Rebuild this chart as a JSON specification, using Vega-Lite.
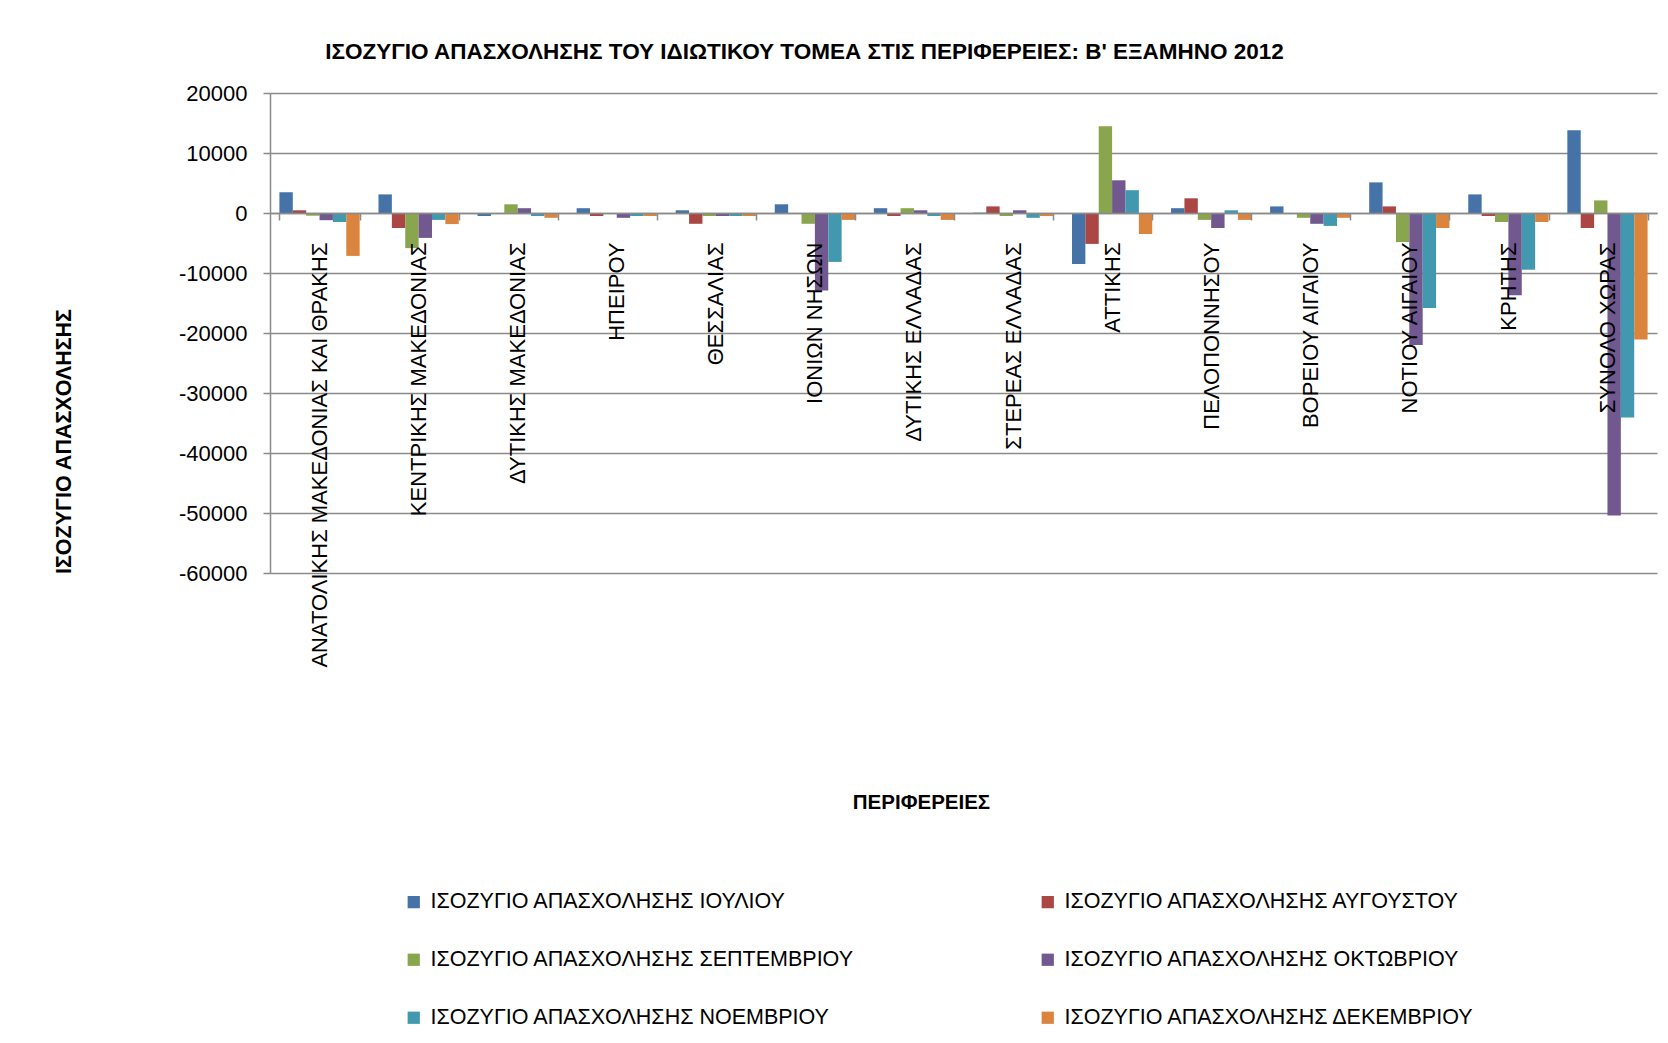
{
  "$schema": "https://vega.github.io/schema/vega-lite/v6.json",
  "autosize": "none",
  "width": 1387,
  "height": 480,
  "padding": {"left": 270, "top": 93, "right": 11, "bottom": 470},
  "background": "white",
  "title": {
    "text": "ΙΣΟΖΥΓΙΟ ΑΠΑΣΧΟΛΗΣΗΣ  ΤΟΥ ΙΔΙΩΤΙΚΟΥ ΤΟΜΕΑ ΣΤΙΣ ΠΕΡΙΦΕΡΕΙΕΣ:  Β' ΕΞΑΜΗΝΟ 2012",
    "font": "Liberation Sans",
    "fontSize": 22.5,
    "fontWeight": "bold",
    "color": "black",
    "anchor": "middle",
    "frame": "group",
    "dx": -159,
    "offset": 19
  },
  "config": {
    "view": {"stroke": null},
    "axis": {"labelFont": "Liberation Sans", "titleFont": "Liberation Sans", "labelColor": "black", "titleColor": "black"},
    "legend": {"labelFont": "Liberation Sans"}
  },
  "data": {
    "values": [
      {"r": "ΑΝΑΤΟΛΙΚΗΣ ΜΑΚΕΔΟΝΙΑΣ ΚΑΙ ΘΡΑΚΗΣ", "s": "ΙΣΟΖΥΓΙΟ ΑΠΑΣΧΟΛΗΣΗΣ ΙΟΥΛΙΟΥ", "v": 3450},
      {"r": "ΑΝΑΤΟΛΙΚΗΣ ΜΑΚΕΔΟΝΙΑΣ ΚΑΙ ΘΡΑΚΗΣ", "s": "ΙΣΟΖΥΓΙΟ ΑΠΑΣΧΟΛΗΣΗΣ ΑΥΓΟΥΣΤΟΥ", "v": 450},
      {"r": "ΑΝΑΤΟΛΙΚΗΣ ΜΑΚΕΔΟΝΙΑΣ ΚΑΙ ΘΡΑΚΗΣ", "s": "ΙΣΟΖΥΓΙΟ ΑΠΑΣΧΟΛΗΣΗΣ ΣΕΠΤΕΜΒΡΙΟΥ", "v": -450},
      {"r": "ΑΝΑΤΟΛΙΚΗΣ ΜΑΚΕΔΟΝΙΑΣ ΚΑΙ ΘΡΑΚΗΣ", "s": "ΙΣΟΖΥΓΙΟ ΑΠΑΣΧΟΛΗΣΗΣ ΟΚΤΩΒΡΙΟΥ", "v": -1200},
      {"r": "ΑΝΑΤΟΛΙΚΗΣ ΜΑΚΕΔΟΝΙΑΣ ΚΑΙ ΘΡΑΚΗΣ", "s": "ΙΣΟΖΥΓΙΟ ΑΠΑΣΧΟΛΗΣΗΣ ΝΟΕΜΒΡΙΟΥ", "v": -1500},
      {"r": "ΑΝΑΤΟΛΙΚΗΣ ΜΑΚΕΔΟΝΙΑΣ ΚΑΙ ΘΡΑΚΗΣ", "s": "ΙΣΟΖΥΓΙΟ ΑΠΑΣΧΟΛΗΣΗΣ ΔΕΚΕΜΒΡΙΟΥ", "v": -7150},
      {"r": "ΚΕΝΤΡΙΚΗΣ ΜΑΚΕΔΟΝΙΑΣ", "s": "ΙΣΟΖΥΓΙΟ ΑΠΑΣΧΟΛΗΣΗΣ ΙΟΥΛΙΟΥ", "v": 3100},
      {"r": "ΚΕΝΤΡΙΚΗΣ ΜΑΚΕΔΟΝΙΑΣ", "s": "ΙΣΟΖΥΓΙΟ ΑΠΑΣΧΟΛΗΣΗΣ ΑΥΓΟΥΣΤΟΥ", "v": -2500},
      {"r": "ΚΕΝΤΡΙΚΗΣ ΜΑΚΕΔΟΝΙΑΣ", "s": "ΙΣΟΖΥΓΙΟ ΑΠΑΣΧΟΛΗΣΗΣ ΣΕΠΤΕΜΒΡΙΟΥ", "v": -5850},
      {"r": "ΚΕΝΤΡΙΚΗΣ ΜΑΚΕΔΟΝΙΑΣ", "s": "ΙΣΟΖΥΓΙΟ ΑΠΑΣΧΟΛΗΣΗΣ ΟΚΤΩΒΡΙΟΥ", "v": -4150},
      {"r": "ΚΕΝΤΡΙΚΗΣ ΜΑΚΕΔΟΝΙΑΣ", "s": "ΙΣΟΖΥΓΙΟ ΑΠΑΣΧΟΛΗΣΗΣ ΝΟΕΜΒΡΙΟΥ", "v": -1150},
      {"r": "ΚΕΝΤΡΙΚΗΣ ΜΑΚΕΔΟΝΙΑΣ", "s": "ΙΣΟΖΥΓΙΟ ΑΠΑΣΧΟΛΗΣΗΣ ΔΕΚΕΜΒΡΙΟΥ", "v": -1850},
      {"r": "ΔΥΤΙΚΗΣ ΜΑΚΕΔΟΝΙΑΣ", "s": "ΙΣΟΖΥΓΙΟ ΑΠΑΣΧΟΛΗΣΗΣ ΙΟΥΛΙΟΥ", "v": -500},
      {"r": "ΔΥΤΙΚΗΣ ΜΑΚΕΔΟΝΙΑΣ", "s": "ΙΣΟΖΥΓΙΟ ΑΠΑΣΧΟΛΗΣΗΣ ΑΥΓΟΥΣΤΟΥ", "v": -50},
      {"r": "ΔΥΤΙΚΗΣ ΜΑΚΕΔΟΝΙΑΣ", "s": "ΙΣΟΖΥΓΙΟ ΑΠΑΣΧΟΛΗΣΗΣ ΣΕΠΤΕΜΒΡΙΟΥ", "v": 1450},
      {"r": "ΔΥΤΙΚΗΣ ΜΑΚΕΔΟΝΙΑΣ", "s": "ΙΣΟΖΥΓΙΟ ΑΠΑΣΧΟΛΗΣΗΣ ΟΚΤΩΒΡΙΟΥ", "v": 800},
      {"r": "ΔΥΤΙΚΗΣ ΜΑΚΕΔΟΝΙΑΣ", "s": "ΙΣΟΖΥΓΙΟ ΑΠΑΣΧΟΛΗΣΗΣ ΝΟΕΜΒΡΙΟΥ", "v": -500},
      {"r": "ΔΥΤΙΚΗΣ ΜΑΚΕΔΟΝΙΑΣ", "s": "ΙΣΟΖΥΓΙΟ ΑΠΑΣΧΟΛΗΣΗΣ ΔΕΚΕΜΒΡΙΟΥ", "v": -800},
      {"r": "ΗΠΕΙΡΟΥ", "s": "ΙΣΟΖΥΓΙΟ ΑΠΑΣΧΟΛΗΣΗΣ ΙΟΥΛΙΟΥ", "v": 800},
      {"r": "ΗΠΕΙΡΟΥ", "s": "ΙΣΟΖΥΓΙΟ ΑΠΑΣΧΟΛΗΣΗΣ ΑΥΓΟΥΣΤΟΥ", "v": -500},
      {"r": "ΗΠΕΙΡΟΥ", "s": "ΙΣΟΖΥΓΙΟ ΑΠΑΣΧΟΛΗΣΗΣ ΣΕΠΤΕΜΒΡΙΟΥ", "v": -100},
      {"r": "ΗΠΕΙΡΟΥ", "s": "ΙΣΟΖΥΓΙΟ ΑΠΑΣΧΟΛΗΣΗΣ ΟΚΤΩΒΡΙΟΥ", "v": -800},
      {"r": "ΗΠΕΙΡΟΥ", "s": "ΙΣΟΖΥΓΙΟ ΑΠΑΣΧΟΛΗΣΗΣ ΝΟΕΜΒΡΙΟΥ", "v": -500},
      {"r": "ΗΠΕΙΡΟΥ", "s": "ΙΣΟΖΥΓΙΟ ΑΠΑΣΧΟΛΗΣΗΣ ΔΕΚΕΜΒΡΙΟΥ", "v": -500},
      {"r": "ΘΕΣΣΑΛΙΑΣ", "s": "ΙΣΟΖΥΓΙΟ ΑΠΑΣΧΟΛΗΣΗΣ ΙΟΥΛΙΟΥ", "v": 450},
      {"r": "ΘΕΣΣΑΛΙΑΣ", "s": "ΙΣΟΖΥΓΙΟ ΑΠΑΣΧΟΛΗΣΗΣ ΑΥΓΟΥΣΤΟΥ", "v": -1800},
      {"r": "ΘΕΣΣΑΛΙΑΣ", "s": "ΙΣΟΖΥΓΙΟ ΑΠΑΣΧΟΛΗΣΗΣ ΣΕΠΤΕΜΒΡΙΟΥ", "v": -500},
      {"r": "ΘΕΣΣΑΛΙΑΣ", "s": "ΙΣΟΖΥΓΙΟ ΑΠΑΣΧΟΛΗΣΗΣ ΟΚΤΩΒΡΙΟΥ", "v": -500},
      {"r": "ΘΕΣΣΑΛΙΑΣ", "s": "ΙΣΟΖΥΓΙΟ ΑΠΑΣΧΟΛΗΣΗΣ ΝΟΕΜΒΡΙΟΥ", "v": -500},
      {"r": "ΘΕΣΣΑΛΙΑΣ", "s": "ΙΣΟΖΥΓΙΟ ΑΠΑΣΧΟΛΗΣΗΣ ΔΕΚΕΜΒΡΙΟΥ", "v": -500},
      {"r": "ΙΟΝΙΩΝ ΝΗΣΩΝ", "s": "ΙΣΟΖΥΓΙΟ ΑΠΑΣΧΟΛΗΣΗΣ ΙΟΥΛΙΟΥ", "v": 1450},
      {"r": "ΙΟΝΙΩΝ ΝΗΣΩΝ", "s": "ΙΣΟΖΥΓΙΟ ΑΠΑΣΧΟΛΗΣΗΣ ΑΥΓΟΥΣΤΟΥ", "v": -50},
      {"r": "ΙΟΝΙΩΝ ΝΗΣΩΝ", "s": "ΙΣΟΖΥΓΙΟ ΑΠΑΣΧΟΛΗΣΗΣ ΣΕΠΤΕΜΒΡΙΟΥ", "v": -1800},
      {"r": "ΙΟΝΙΩΝ ΝΗΣΩΝ", "s": "ΙΣΟΖΥΓΙΟ ΑΠΑΣΧΟΛΗΣΗΣ ΟΚΤΩΒΡΙΟΥ", "v": -12900},
      {"r": "ΙΟΝΙΩΝ ΝΗΣΩΝ", "s": "ΙΣΟΖΥΓΙΟ ΑΠΑΣΧΟΛΗΣΗΣ ΝΟΕΜΒΡΙΟΥ", "v": -8150},
      {"r": "ΙΟΝΙΩΝ ΝΗΣΩΝ", "s": "ΙΣΟΖΥΓΙΟ ΑΠΑΣΧΟΛΗΣΗΣ ΔΕΚΕΜΒΡΙΟΥ", "v": -1150},
      {"r": "ΔΥΤΙΚΗΣ  ΕΛΛΑΔΑΣ", "s": "ΙΣΟΖΥΓΙΟ ΑΠΑΣΧΟΛΗΣΗΣ ΙΟΥΛΙΟΥ", "v": 800},
      {"r": "ΔΥΤΙΚΗΣ  ΕΛΛΑΔΑΣ", "s": "ΙΣΟΖΥΓΙΟ ΑΠΑΣΧΟΛΗΣΗΣ ΑΥΓΟΥΣΤΟΥ", "v": -500},
      {"r": "ΔΥΤΙΚΗΣ  ΕΛΛΑΔΑΣ", "s": "ΙΣΟΖΥΓΙΟ ΑΠΑΣΧΟΛΗΣΗΣ ΣΕΠΤΕΜΒΡΙΟΥ", "v": 800},
      {"r": "ΔΥΤΙΚΗΣ  ΕΛΛΑΔΑΣ", "s": "ΙΣΟΖΥΓΙΟ ΑΠΑΣΧΟΛΗΣΗΣ ΟΚΤΩΒΡΙΟΥ", "v": 450},
      {"r": "ΔΥΤΙΚΗΣ  ΕΛΛΑΔΑΣ", "s": "ΙΣΟΖΥΓΙΟ ΑΠΑΣΧΟΛΗΣΗΣ ΝΟΕΜΒΡΙΟΥ", "v": -500},
      {"r": "ΔΥΤΙΚΗΣ  ΕΛΛΑΔΑΣ", "s": "ΙΣΟΖΥΓΙΟ ΑΠΑΣΧΟΛΗΣΗΣ ΔΕΚΕΜΒΡΙΟΥ", "v": -1150},
      {"r": "ΣΤΕΡΕΑΣ ΕΛΛΑΔΑΣ", "s": "ΙΣΟΖΥΓΙΟ ΑΠΑΣΧΟΛΗΣΗΣ ΙΟΥΛΙΟΥ", "v": 50},
      {"r": "ΣΤΕΡΕΑΣ ΕΛΛΑΔΑΣ", "s": "ΙΣΟΖΥΓΙΟ ΑΠΑΣΧΟΛΗΣΗΣ ΑΥΓΟΥΣΤΟΥ", "v": 1100},
      {"r": "ΣΤΕΡΕΑΣ ΕΛΛΑΔΑΣ", "s": "ΙΣΟΖΥΓΙΟ ΑΠΑΣΧΟΛΗΣΗΣ ΣΕΠΤΕΜΒΡΙΟΥ", "v": -500},
      {"r": "ΣΤΕΡΕΑΣ ΕΛΛΑΔΑΣ", "s": "ΙΣΟΖΥΓΙΟ ΑΠΑΣΧΟΛΗΣΗΣ ΟΚΤΩΒΡΙΟΥ", "v": 450},
      {"r": "ΣΤΕΡΕΑΣ ΕΛΛΑΔΑΣ", "s": "ΙΣΟΖΥΓΙΟ ΑΠΑΣΧΟΛΗΣΗΣ ΝΟΕΜΒΡΙΟΥ", "v": -800},
      {"r": "ΣΤΕΡΕΑΣ ΕΛΛΑΔΑΣ", "s": "ΙΣΟΖΥΓΙΟ ΑΠΑΣΧΟΛΗΣΗΣ ΔΕΚΕΜΒΡΙΟΥ", "v": -500},
      {"r": "ΑΤΤΙΚΗΣ", "s": "ΙΣΟΖΥΓΙΟ ΑΠΑΣΧΟΛΗΣΗΣ ΙΟΥΛΙΟΥ", "v": -8500},
      {"r": "ΑΤΤΙΚΗΣ", "s": "ΙΣΟΖΥΓΙΟ ΑΠΑΣΧΟΛΗΣΗΣ ΑΥΓΟΥΣΤΟΥ", "v": -5150},
      {"r": "ΑΤΤΙΚΗΣ", "s": "ΙΣΟΖΥΓΙΟ ΑΠΑΣΧΟΛΗΣΗΣ ΣΕΠΤΕΜΒΡΙΟΥ", "v": 14450},
      {"r": "ΑΤΤΙΚΗΣ", "s": "ΙΣΟΖΥΓΙΟ ΑΠΑΣΧΟΛΗΣΗΣ ΟΚΤΩΒΡΙΟΥ", "v": 5450},
      {"r": "ΑΤΤΙΚΗΣ", "s": "ΙΣΟΖΥΓΙΟ ΑΠΑΣΧΟΛΗΣΗΣ ΝΟΕΜΒΡΙΟΥ", "v": 3800},
      {"r": "ΑΤΤΙΚΗΣ", "s": "ΙΣΟΖΥΓΙΟ ΑΠΑΣΧΟΛΗΣΗΣ ΔΕΚΕΜΒΡΙΟΥ", "v": -3500},
      {"r": "ΠΕΛΟΠΟΝΝΗΣΟΥ", "s": "ΙΣΟΖΥΓΙΟ ΑΠΑΣΧΟΛΗΣΗΣ ΙΟΥΛΙΟΥ", "v": 800},
      {"r": "ΠΕΛΟΠΟΝΝΗΣΟΥ", "s": "ΙΣΟΖΥΓΙΟ ΑΠΑΣΧΟΛΗΣΗΣ ΑΥΓΟΥΣΤΟΥ", "v": 2450},
      {"r": "ΠΕΛΟΠΟΝΝΗΣΟΥ", "s": "ΙΣΟΖΥΓΙΟ ΑΠΑΣΧΟΛΗΣΗΣ ΣΕΠΤΕΜΒΡΙΟΥ", "v": -1150},
      {"r": "ΠΕΛΟΠΟΝΝΗΣΟΥ", "s": "ΙΣΟΖΥΓΙΟ ΑΠΑΣΧΟΛΗΣΗΣ ΟΚΤΩΒΡΙΟΥ", "v": -2500},
      {"r": "ΠΕΛΟΠΟΝΝΗΣΟΥ", "s": "ΙΣΟΖΥΓΙΟ ΑΠΑΣΧΟΛΗΣΗΣ ΝΟΕΜΒΡΙΟΥ", "v": 450},
      {"r": "ΠΕΛΟΠΟΝΝΗΣΟΥ", "s": "ΙΣΟΖΥΓΙΟ ΑΠΑΣΧΟΛΗΣΗΣ ΔΕΚΕΜΒΡΙΟΥ", "v": -1150},
      {"r": "ΒΟΡΕΙΟΥ ΑΙΓΑΙΟΥ", "s": "ΙΣΟΖΥΓΙΟ ΑΠΑΣΧΟΛΗΣΗΣ ΙΟΥΛΙΟΥ", "v": 1100},
      {"r": "ΒΟΡΕΙΟΥ ΑΙΓΑΙΟΥ", "s": "ΙΣΟΖΥΓΙΟ ΑΠΑΣΧΟΛΗΣΗΣ ΑΥΓΟΥΣΤΟΥ", "v": -50},
      {"r": "ΒΟΡΕΙΟΥ ΑΙΓΑΙΟΥ", "s": "ΙΣΟΖΥΓΙΟ ΑΠΑΣΧΟΛΗΣΗΣ ΣΕΠΤΕΜΒΡΙΟΥ", "v": -800},
      {"r": "ΒΟΡΕΙΟΥ ΑΙΓΑΙΟΥ", "s": "ΙΣΟΖΥΓΙΟ ΑΠΑΣΧΟΛΗΣΗΣ ΟΚΤΩΒΡΙΟΥ", "v": -1800},
      {"r": "ΒΟΡΕΙΟΥ ΑΙΓΑΙΟΥ", "s": "ΙΣΟΖΥΓΙΟ ΑΠΑΣΧΟΛΗΣΗΣ ΝΟΕΜΒΡΙΟΥ", "v": -2150},
      {"r": "ΒΟΡΕΙΟΥ ΑΙΓΑΙΟΥ", "s": "ΙΣΟΖΥΓΙΟ ΑΠΑΣΧΟΛΗΣΗΣ ΔΕΚΕΜΒΡΙΟΥ", "v": -800},
      {"r": "ΝΟΤΙΟΥ ΑΙΓΑΙΟΥ", "s": "ΙΣΟΖΥΓΙΟ ΑΠΑΣΧΟΛΗΣΗΣ ΙΟΥΛΙΟΥ", "v": 5100},
      {"r": "ΝΟΤΙΟΥ ΑΙΓΑΙΟΥ", "s": "ΙΣΟΖΥΓΙΟ ΑΠΑΣΧΟΛΗΣΗΣ ΑΥΓΟΥΣΤΟΥ", "v": 1100},
      {"r": "ΝΟΤΙΟΥ ΑΙΓΑΙΟΥ", "s": "ΙΣΟΖΥΓΙΟ ΑΠΑΣΧΟΛΗΣΗΣ ΣΕΠΤΕΜΒΡΙΟΥ", "v": -4850},
      {"r": "ΝΟΤΙΟΥ ΑΙΓΑΙΟΥ", "s": "ΙΣΟΖΥΓΙΟ ΑΠΑΣΧΟΛΗΣΗΣ ΟΚΤΩΒΡΙΟΥ", "v": -22000},
      {"r": "ΝΟΤΙΟΥ ΑΙΓΑΙΟΥ", "s": "ΙΣΟΖΥΓΙΟ ΑΠΑΣΧΟΛΗΣΗΣ ΝΟΕΜΒΡΙΟΥ", "v": -15850},
      {"r": "ΝΟΤΙΟΥ ΑΙΓΑΙΟΥ", "s": "ΙΣΟΖΥΓΙΟ ΑΠΑΣΧΟΛΗΣΗΣ ΔΕΚΕΜΒΡΙΟΥ", "v": -2500},
      {"r": "ΚΡΗΤΗΣ", "s": "ΙΣΟΖΥΓΙΟ ΑΠΑΣΧΟΛΗΣΗΣ ΙΟΥΛΙΟΥ", "v": 3100},
      {"r": "ΚΡΗΤΗΣ", "s": "ΙΣΟΖΥΓΙΟ ΑΠΑΣΧΟΛΗΣΗΣ ΑΥΓΟΥΣΤΟΥ", "v": -500},
      {"r": "ΚΡΗΤΗΣ", "s": "ΙΣΟΖΥΓΙΟ ΑΠΑΣΧΟΛΗΣΗΣ ΣΕΠΤΕΜΒΡΙΟΥ", "v": -1500},
      {"r": "ΚΡΗΤΗΣ", "s": "ΙΣΟΖΥΓΙΟ ΑΠΑΣΧΟΛΗΣΗΣ ΟΚΤΩΒΡΙΟΥ", "v": -13700},
      {"r": "ΚΡΗΤΗΣ", "s": "ΙΣΟΖΥΓΙΟ ΑΠΑΣΧΟΛΗΣΗΣ ΝΟΕΜΒΡΙΟΥ", "v": -9450},
      {"r": "ΚΡΗΤΗΣ", "s": "ΙΣΟΖΥΓΙΟ ΑΠΑΣΧΟΛΗΣΗΣ ΔΕΚΕΜΒΡΙΟΥ", "v": -1500},
      {"r": "ΣΥΝΟΛΟ ΧΩΡΑΣ", "s": "ΙΣΟΖΥΓΙΟ ΑΠΑΣΧΟΛΗΣΗΣ ΙΟΥΛΙΟΥ", "v": 13800},
      {"r": "ΣΥΝΟΛΟ ΧΩΡΑΣ", "s": "ΙΣΟΖΥΓΙΟ ΑΠΑΣΧΟΛΗΣΗΣ ΑΥΓΟΥΣΤΟΥ", "v": -2500},
      {"r": "ΣΥΝΟΛΟ ΧΩΡΑΣ", "s": "ΙΣΟΖΥΓΙΟ ΑΠΑΣΧΟΛΗΣΗΣ ΣΕΠΤΕΜΒΡΙΟΥ", "v": 2100},
      {"r": "ΣΥΝΟΛΟ ΧΩΡΑΣ", "s": "ΙΣΟΖΥΓΙΟ ΑΠΑΣΧΟΛΗΣΗΣ ΟΚΤΩΒΡΙΟΥ", "v": -50400},
      {"r": "ΣΥΝΟΛΟ ΧΩΡΑΣ", "s": "ΙΣΟΖΥΓΙΟ ΑΠΑΣΧΟΛΗΣΗΣ ΝΟΕΜΒΡΙΟΥ", "v": -34100},
      {"r": "ΣΥΝΟΛΟ ΧΩΡΑΣ", "s": "ΙΣΟΖΥΓΙΟ ΑΠΑΣΧΟΛΗΣΗΣ ΔΕΚΕΜΒΡΙΟΥ", "v": -21100}
    ]
  },
  "mark": {"type": "bar"},
  "encoding": {
    "x": {
      "field": "r",
      "type": "nominal",
      "sort": null,
      "scale": {"paddingInner": 0.19, "paddingOuter": 0.095},
      "axis": {
        "orient": "bottom",
        "offset": -360,
        "zindex": 1,
        "title": "ΠΕΡΙΦΕΡΕΙΕΣ",
        "titleFontSize": 20.5,
        "titleFontWeight": "bold",
        "titleX": 651,
        "titleY": 589,
        "titleBaseline": "middle",
        "titleAlign": "center",
        "labelAngle": -90,
        "labelFontSize": 22,
        "labelPadding": 22,
        "labelLimit": 700,
        "labelOverlap": false,
        "tickBand": "extent",
        "tickSize": 7,
        "tickColor": "#8a8a8a",
        "tickWidth": 1.5,
        "domainColor": "#8a8a8a",
        "domainWidth": 1.5,
        "grid": false
      }
    },
    "xOffset": {
      "field": "s",
      "type": "nominal",
      "sort": null,
      "scale": {"paddingInner": 0, "paddingOuter": 0}
    },
    "y": {
      "field": "v",
      "type": "quantitative",
      "scale": {"domain": [-60000, 20000], "nice": false, "zero": false},
      "axis": {
        "values": [-60000, -50000, -40000, -30000, -20000, -10000, 0, 10000, 20000],
        "labelExpr": "'' + datum.value",
        "labelFontSize": 22,
        "labelPadding": 16,
        "tickSize": 7,
        "tickColor": "#8a8a8a",
        "tickWidth": 1.5,
        "domainColor": "#8a8a8a",
        "domainWidth": 1.5,
        "grid": true,
        "gridColor": "#8a8a8a",
        "gridWidth": 1.5,
        "title": "ΙΣΟΖΥΓΙΟ ΑΠΑΣΧΟΛΗΣΗΣ",
        "titleFontSize": 21.5,
        "titleFontWeight": "bold",
        "titleX": -206,
        "titleY": 348,
        "titleAngle": 270,
        "titleAlign": "center",
        "titleBaseline": "middle"
      }
    },
    "color": {
      "field": "s",
      "type": "nominal",
      "scale": {
        "domain": [
          "ΙΣΟΖΥΓΙΟ ΑΠΑΣΧΟΛΗΣΗΣ ΙΟΥΛΙΟΥ",
          "ΙΣΟΖΥΓΙΟ ΑΠΑΣΧΟΛΗΣΗΣ ΣΕΠΤΕΜΒΡΙΟΥ",
          "ΙΣΟΖΥΓΙΟ ΑΠΑΣΧΟΛΗΣΗΣ ΝΟΕΜΒΡΙΟΥ",
          "ΙΣΟΖΥΓΙΟ ΑΠΑΣΧΟΛΗΣΗΣ ΑΥΓΟΥΣΤΟΥ",
          "ΙΣΟΖΥΓΙΟ ΑΠΑΣΧΟΛΗΣΗΣ ΟΚΤΩΒΡΙΟΥ",
          "ΙΣΟΖΥΓΙΟ ΑΠΑΣΧΟΛΗΣΗΣ ΔΕΚΕΜΒΡΙΟΥ"
        ],
        "range": ["#4572A7", "#89A54E", "#4198AF", "#AA4643", "#71588F", "#DB843D"]
      },
      "legend": {
        "title": null,
        "orient": "none",
        "legendX": 133,
        "legendY": 798,
        "columns": 2,
        "columnPadding": 182,
        "rowPadding": 35,
        "symbolType": "square",
        "symbolSize": 150,
        "symbolStrokeWidth": 0,
        "labelFontSize": 21.5,
        "labelColor": "black",
        "labelOffset": 6,
        "labelLimit": 700
      }
    }
  }
}
